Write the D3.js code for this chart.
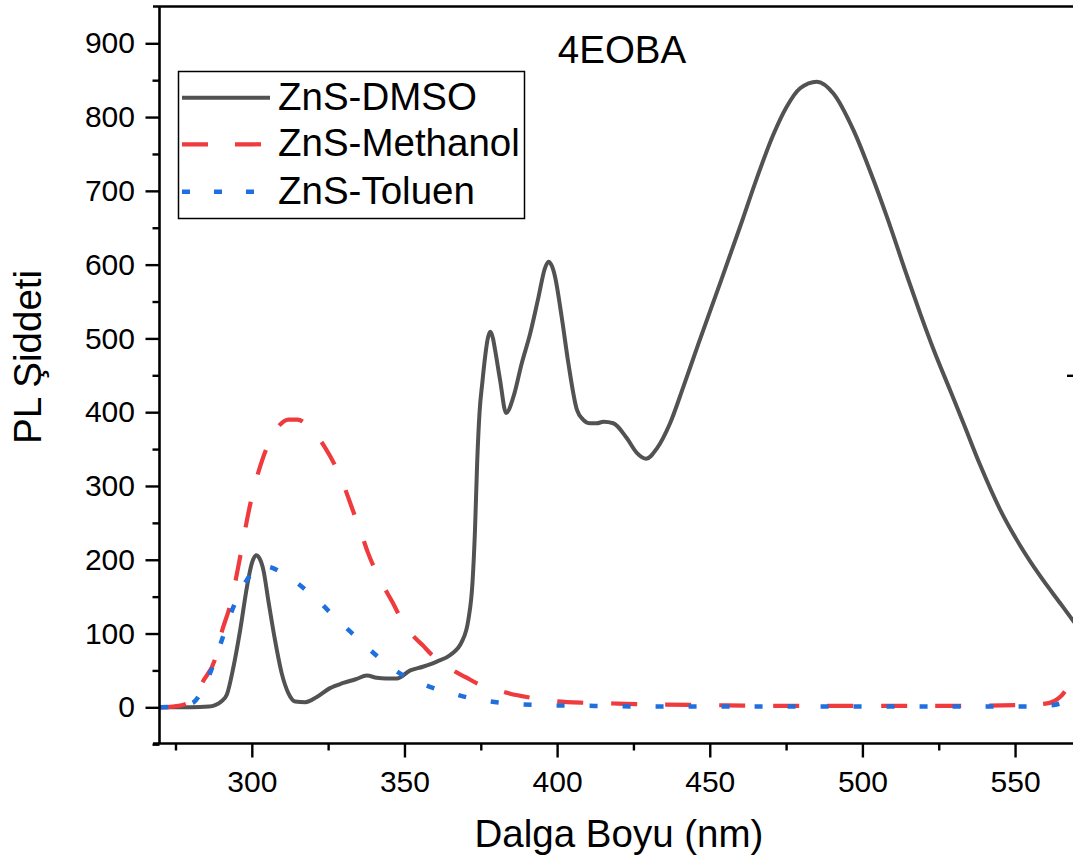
<!DOCTYPE html>
<html>
<head>
<meta charset="utf-8">
<script src="https://cdn.jsdelivr.net/npm/d3@7"></script>
<style>
  html, body { margin: 0; padding: 0; background: #fff; }
  svg { display: block; font-family: "Liberation Sans", Arial, sans-serif; }
</style>
</head>
<body>
<svg id="chart" width="1073" height="866"></svg>
<script>
// ---------------- data ----------------
const chartTitle = "4EOBA";
const xTitle = "Dalga Boyu (nm)";
const yTitle = "PL Şiddeti";
const seriesNames = ["ZnS-DMSO", "ZnS-Methanol", "ZnS-Toluen"];

const xMajorTicks = [300, 350, 400, 450, 500, 550];
const xMinorTicks = [275, 325, 375, 425, 475, 525];
const yMajorTicks = [0, 100, 200, 300, 400, 500, 600, 700, 800, 900];
const yMinorTicks = [-50, 50, 150, 250, 350, 450, 550, 650, 750, 850];
const rightAxisTicks = [450];   // the one right-hand tick visible at the cropped edge

// ZnS-DMSO  [wavelength, intensity]
const dmso = [
  [270,0],[280,0],[286,1],[288,3],[290,8],[291.8,17],[294,55],[296.2,105],[298.4,163],
  [300,195],[301.4,206],[302.5,202],[303.8,186],[305.4,145],[307.6,91],[309.8,46],
  [312,19],[314.2,8],[317.5,7],[321.3,14],[325.6,26],[330,33],[334,38],[337.7,43],
  [340.9,40],[344,39],[347.5,39],[351.9,50],[356,55],[360.6,62],[365,71],[368.8,89],
  [370.9,118],[372.3,170],[373.1,240],[373.8,330],[374.6,400],[375.5,440],[376.5,478],
  [377.3,500],[378.1,509],[379,500],[379.7,484],[381.3,444],[383.3,399],[385.7,421],
  [388.4,466],[391.2,507],[393.9,556],[396,595],[397.2,604],[398.3,598],[399.3,584],
  [401.5,529],[403.7,466],[406.5,403],[408.5,390],[410.8,385],[413,385],[415.2,387],
  [418.4,385],[422.8,365],[426.1,345],[429.2,337],[432.7,351],[437,385],[441.4,435],
  [446.3,493],[453.4,575],[459.9,651],[465.4,717],[470.8,776],[475.2,814],[479.6,839],
  [485.1,848],[490.5,832],[497.1,782],[503.6,715],[508,665],[514.5,586],[519,533],
  [523.3,485],[528.7,430],[533.1,385],[538.6,328],[545.1,268],[551.7,219],[558.2,178],
  [564.8,141],[569.1,117],[572,101]
];

// ZnS-Methanol
const methanol = [
  [270,0],[274,1],[278,4],[281,12],[284,35],[288,66],[290,100],[293,140],[296,200],
  [298,245],[300,285],[303,330],[306,362],[309,382],[312,390],[315,390],[318,383],
  [321,370],[324,352],[327,330],[330,302],[333,268],[336,234],[338,210],[341.5,177],
  [346,143],[350,112],[353,96],[356,84],[359,71],[363,60],[366,50],[370,41],[375,30],
  [380,24],[385,18],[390,14],[395,11],[400,8],[410,6],[420,5],[430,4],[450,3],
  [470,2],[500,2],[530,2],[550,3],[560,5],[565,15],[568,33],[570,50],[572,66]
];

// ZnS-Toluen
const toluen = [
  [270,0],[275,1],[279,4],[281,7],[284,25],[286.3,46],[289.6,84],[293.4,130],[296,155],
  [298,170],[300,182],[303,192],[306,190],[310,182],[314.7,169],[318,158],[322.9,140],
  [326,127],[330.8,108],[334,96],[338.4,79],[342,66],[346.7,51],[351,40],[356.2,31],
  [361,24],[366.3,18],[372,12],[378,8],[385,5],[395,3],[410,2],[430,1],[460,1],
  [500,1],[530,1],[550,1],[560,2],[566,7],[570,16],[572,22]
];

const seriesData = [dmso, methanol, toluen];

// ---------------- styles ----------------
const colors = ["#525252", "#ef3a3e", "#1f6fdf"];
const dashes = [null, "26,28", "8,25"];
const widths = [4, 4.2, 4.5];

// ---------------- layout ----------------
const svg = d3.select("#chart");
const pLeft = 159.5, pRight = 1073, pTop = 6.5, pBottom = 743.5;

const x = d3.scaleLinear().domain([269.6, 570]).range([159, 159 + 300.4 * 3.053]);
const y = d3.scaleLinear().domain([-50, 950]).range([744.2, 6.4]);

svg.append("defs").append("clipPath").attr("id", "plotclip")
  .append("rect").attr("x", pLeft).attr("y", pTop).attr("width", pRight - pLeft).attr("height", pBottom - pTop);

// curves
const line = d3.line().x(d => x(d[0])).y(d => y(d[1])).curve(d3.curveMonotoneX);
const plot = svg.append("g").attr("clip-path", "url(#plotclip)");
seriesData.forEach((s, i) => {
  plot.append("path")
    .datum(s)
    .attr("d", line)
    .attr("fill", "none")
    .attr("stroke", colors[i])
    .attr("stroke-width", widths[i])
    .attr("stroke-dasharray", dashes[i])
    .attr("stroke-linejoin", "round");
});

// axes
const axisFont = 30;
const gx = svg.append("g").attr("transform", `translate(0,${pBottom})`);
gx.call(d3.axisBottom(x).tickValues(xMajorTicks).tickSize(14).tickPadding(13).tickFormat(d3.format("d")));
gx.append("g").call(d3.axisBottom(x).tickValues(xMinorTicks).tickSize(7).tickFormat(""));
const gy = svg.append("g").attr("transform", `translate(${pLeft},0)`);
gy.call(d3.axisLeft(y).tickValues(yMajorTicks).tickSize(14).tickPadding(10.5).tickFormat(d3.format("d")));
gy.append("g").call(d3.axisLeft(y).tickValues(yMinorTicks).tickSize(7).tickFormat(""));
// right axis tick visible at the cropped edge
svg.append("g").attr("transform", "translate(1074,0)")
  .call(d3.axisLeft(y).tickValues(rightAxisTicks).tickSize(7).tickFormat(""));

svg.selectAll(".domain").remove();
svg.selectAll(".tick line").attr("stroke", "#000").attr("stroke-width", 2.4);
svg.selectAll(".tick text")
  .attr("font-size", axisFont)
  .attr("font-family", "'Liberation Sans', Arial, sans-serif")
  .attr("fill", "#000");

// frame lines
svg.append("line").attr("x1", 153).attr("x2", pRight).attr("y1", pBottom).attr("y2", pBottom)
  .attr("stroke", "#000").attr("stroke-width", 2.6);
svg.append("line").attr("x1", pLeft).attr("x2", pLeft).attr("y1", pTop).attr("y2", pBottom)
  .attr("stroke", "#000").attr("stroke-width", 2.6);
svg.append("line").attr("x1", 153).attr("x2", pRight).attr("y1", pTop).attr("y2", pTop)
  .attr("stroke", "#000").attr("stroke-width", 2.6);

// titles
const titleFont = 38.5;
svg.append("text").attr("x", 619).attr("y", 847).attr("text-anchor", "middle")
  .attr("font-size", titleFont).attr("fill", "#000").text(xTitle);
svg.append("text").attr("transform", "translate(41,357) rotate(-90)").attr("text-anchor", "middle")
  .attr("font-size", titleFont).attr("fill", "#000").text(yTitle);
svg.append("text").attr("x", 622).attr("y", 63).attr("text-anchor", "middle")
  .attr("font-size", titleFont).attr("fill", "#000").text(chartTitle);

// legend
const lg = svg.append("g");
lg.append("rect").attr("x", 178.5).attr("y", 71.5).attr("width", 346).attr("height", 147)
  .attr("fill", "#fff").attr("stroke", "#000").attr("stroke-width", 1.5);
const legendRowY = [97.7, 144.3, 191.7];
const legendLineEnd = [270, 262, 256];
seriesNames.forEach((name, i) => {
  lg.append("line").attr("x1", 182).attr("x2", legendLineEnd[i])
    .attr("y1", legendRowY[i]).attr("y2", legendRowY[i])
    .attr("stroke", colors[i]).attr("stroke-width", widths[i])
    .attr("stroke-dasharray", dashes[i] ? (i === 1 ? "26,27" : "8,24") : null);
  lg.append("text").attr("x", 278).attr("y", legendRowY[i] + 12)
    .attr("font-size", titleFont).attr("fill", "#000").text(name);
});
</script>
</body>
</html>
